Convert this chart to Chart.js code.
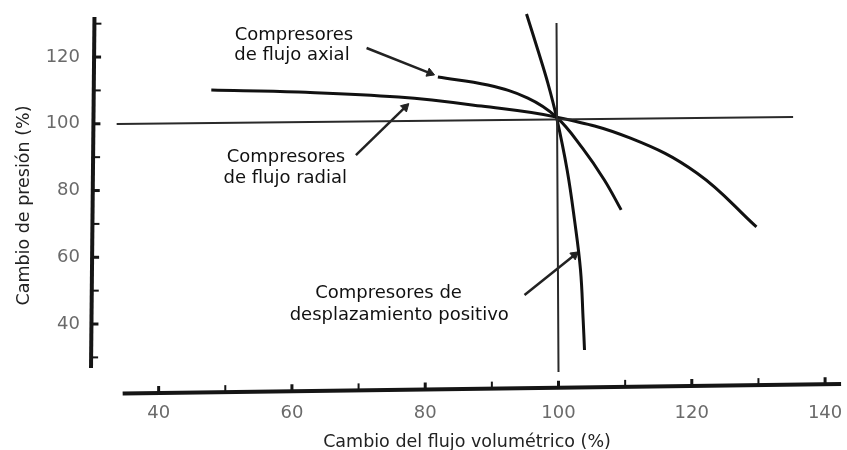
<!DOCTYPE html>
<html>
<head>
<meta charset="utf-8">
<script src="https://cdn.jsdelivr.net/npm/chart.js@4.4.1/dist/chart.umd.min.js"></script>
<style>
  html, body { margin: 0; padding: 0; background: #fff; }
  #wrap { width: 847px; height: 450px; }
</style>
</head>
<body>
<div id="wrap"><canvas id="chart"></canvas></div>
<script>
// Curves: flow change (%) vs pressure change (%)
const radialFlow = [47.9, 61.0, 76.0, 88.4, 99.7, 110.8, 120.8, 129.7];
const radialPressure = [110.1, 109.5, 108.0, 105.3, 102.0, 95.7, 85.2, 69.1];
const axialFlow = [81.9, 89.4, 95.4, 99.7, 103.6, 106.9, 109.4];
const axialPressure = [114.0, 111.6, 107.7, 102.0, 92.7, 83.1, 74.2];
const posDispFlow = [95.2, 96.9, 98.4, 99.7, 101.3, 102.4, 103.3, 103.7, 103.9];
const posDispPressure = [132.9, 122.1, 112.2, 102.0, 86.1, 71.2, 56.2, 41.2, 32.2];

// Reference cross at 100 % / 100 % (slightly skewed in the scan)
const refHFlow = [33.7, 135.2];
const refHPressure = [99.9, 102.0];
const refVFlow = [99.7, 100.0];
const refVPressure = [130.2, 25.6];

// Pointer arrows for the labels
const arrowAxialFlow = [71.2, 80.7];
const arrowAxialPressure = [122.7, 115.2];
const arrowRadialFlow = [69.6, 77.0];
const arrowRadialPressure = [90.6, 105.0];
const arrowPosFlow = [94.9, 102.4];
const arrowPosPressure = [48.7, 60.7];

// Axes
const xTickLabels = [40, 60, 80, 100, 120, 140];
const xMinorTicks = [50, 70, 90, 110, 130];
const yTickLabels = [40, 60, 80, 100, 120];
const yMinorTicks = [30, 50, 70, 90, 110, 130];
const xAxisFlow = [34.6, 142.4];
const xAxisPressure = [19.18, 22.02];
const yAxisFlow = [30.37, 29.85];
const yAxisPressure = [132.0, 26.8];

const zip = (xs, ys) => xs.map((x, i) => ({ x: x, y: ys[i] }));

const notes = [
  { text: 'Compresores', x: 60.3, y: 126.6 },
  { text: 'de flujo axial', x: 60.0, y: 120.6 },
  { text: 'Compresores', x: 59.1, y: 90.0 },
  { text: 'de flujo radial', x: 59.0, y: 83.7 },
  { text: 'Compresores de', x: 74.5, y: 49.3 },
  { text: 'desplazamiento positivo', x: 76.1, y: 42.7 }
];

function curve(data, width, color) {
  return { data: data, showLine: true, borderColor: color, borderWidth: width, pointRadius: 0,
    tension: 0.4, clip: false };
}

function arrow(data) {
  return {
    data: data, showLine: true, borderColor: '#222', borderWidth: 2.5, tension: 0, clip: false,
    pointRadius: [0, 5], pointStyle: 'triangle', pointBackgroundColor: '#222', pointBorderColor: '#222', pointBorderWidth: 1,
    pointRotation: (ctx) => {
      const d = ctx.dataset.data, sx = ctx.chart.scales.x, sy = ctx.chart.scales.y;
      const dx = sx.getPixelForValue(d[1].x) - sx.getPixelForValue(d[0].x);
      const dy = sy.getPixelForValue(d[1].y) - sy.getPixelForValue(d[0].y);
      return Math.atan2(dx, -dy) * 180 / Math.PI;
    }
  };
}

// draws the hand-made axes (lines + inward tick marks) and the label texts
const sketchAxes = {
  id: 'sketchAxes',
  afterDatasetsDraw(chart) {
    const c = chart.ctx, sx = chart.scales.x, sy = chart.scales.y;
    const px = (v) => sx.getPixelForValue(v), py = (v) => sy.getPixelForValue(v);
    c.save();
    c.strokeStyle = '#151515';
    c.lineCap = 'butt';

    // x axis
    const xa = { x0: px(xAxisFlow[0]), y0: py(xAxisPressure[0]), x1: px(xAxisFlow[1]), y1: py(xAxisPressure[1]) };
    c.lineWidth = 4;
    c.beginPath(); c.moveTo(xa.x0, xa.y0); c.lineTo(xa.x1, xa.y1); c.stroke();
    const xTick = (v, w) => {
      const x = px(v), t = (x - xa.x0) / (xa.x1 - xa.x0), y = xa.y0 + t * (xa.y1 - xa.y0);
      c.lineWidth = w;
      c.beginPath(); c.moveTo(x, y); c.lineTo(x, y - 7); c.stroke();
    };
    xTickLabels.forEach(v => xTick(v, 3));
    xMinorTicks.forEach(v => xTick(v, 2));

    // y axis
    const ya = { x0: px(yAxisFlow[0]), y0: py(yAxisPressure[0]), x1: px(yAxisFlow[1]), y1: py(yAxisPressure[1]) };
    c.lineWidth = 4;
    c.beginPath(); c.moveTo(ya.x0, ya.y0); c.lineTo(ya.x1, ya.y1); c.stroke();
    const yTick = (v, w) => {
      const y = py(v), t = (y - ya.y0) / (ya.y1 - ya.y0), x = ya.x0 + t * (ya.x1 - ya.x0);
      c.lineWidth = w;
      c.beginPath(); c.moveTo(x, y); c.lineTo(x + 7, y); c.stroke();
    };
    yTickLabels.forEach(v => yTick(v, 3));
    yMinorTicks.forEach(v => yTick(v, 2));

    // annotations
    c.fillStyle = '#111';
    c.font = '18px "DejaVu Sans"';
    c.textAlign = 'center';
    c.textBaseline = 'middle';
    notes.forEach(n => c.fillText(n.text, px(n.x), py(n.y)));
    c.restore();
  }
};

new Chart(document.getElementById('chart'), {
  type: 'scatter',
  data: {
    datasets: [
      curve(zip(refHFlow, refHPressure), 2, '#2a2a2a'),
      curve(zip(refVFlow, refVPressure), 2, '#2a2a2a'),
      curve(zip(radialFlow, radialPressure), 3, '#111'),
      curve(zip(axialFlow, axialPressure), 3, '#111'),
      curve(zip(posDispFlow, posDispPressure), 3, '#111'),
      arrow(zip(arrowAxialFlow, arrowAxialPressure)),
      arrow(zip(arrowRadialFlow, arrowRadialPressure)),
      arrow(zip(arrowPosFlow, arrowPosPressure))
    ]
  },
  options: {
    responsive: true, maintainAspectRatio: false, animation: false, events: [],
    layout: { padding: { left: 0, right: 2, top: 16, bottom: 0 } },
    plugins: { legend: { display: false }, tooltip: { enabled: false } },
    scales: {
      x: {
        type: 'linear', min: 30.149, max: 142.388,
        grid: { display: false }, border: { display: false },
        afterBuildTicks: (s) => { s.ticks = xTickLabels.map(v => ({ value: v })); },
        afterFit: (s) => { s.height = 55; s.paddingLeft = 0; s.paddingRight = 0; },
        ticks: { padding: 0, color: '#6a6a6a', font: { family: 'DejaVu Sans', size: 18 } },
        title: { display: true, text: 'Cambio del flujo volumétrico (%)', color: '#222',
          font: { family: 'DejaVu Sans', size: 17.5, lineHeight: 1 }, padding: { top: 0, bottom: -1.5 } }
      },
      y: {
        type: 'linear', min: 18.73, max: 132.3,
        grid: { display: false }, border: { display: false },
        afterBuildTicks: (s) => { s.ticks = yTickLabels.map(v => ({ value: v })); },
        afterFit: (s) => { s.width = 93; s.paddingTop = 0; s.paddingBottom = 0; },
        ticks: { padding: 5, color: '#6a6a6a', font: { family: 'DejaVu Sans', size: 18 } },
        title: { display: true, text: 'Cambio de presión (%)', color: '#222',
          font: { family: 'DejaVu Sans', size: 17.5 }, padding: { top: 14, bottom: 0 } }
      }
    }
  },
  plugins: [sketchAxes]
});
</script>
</body>
</html>
